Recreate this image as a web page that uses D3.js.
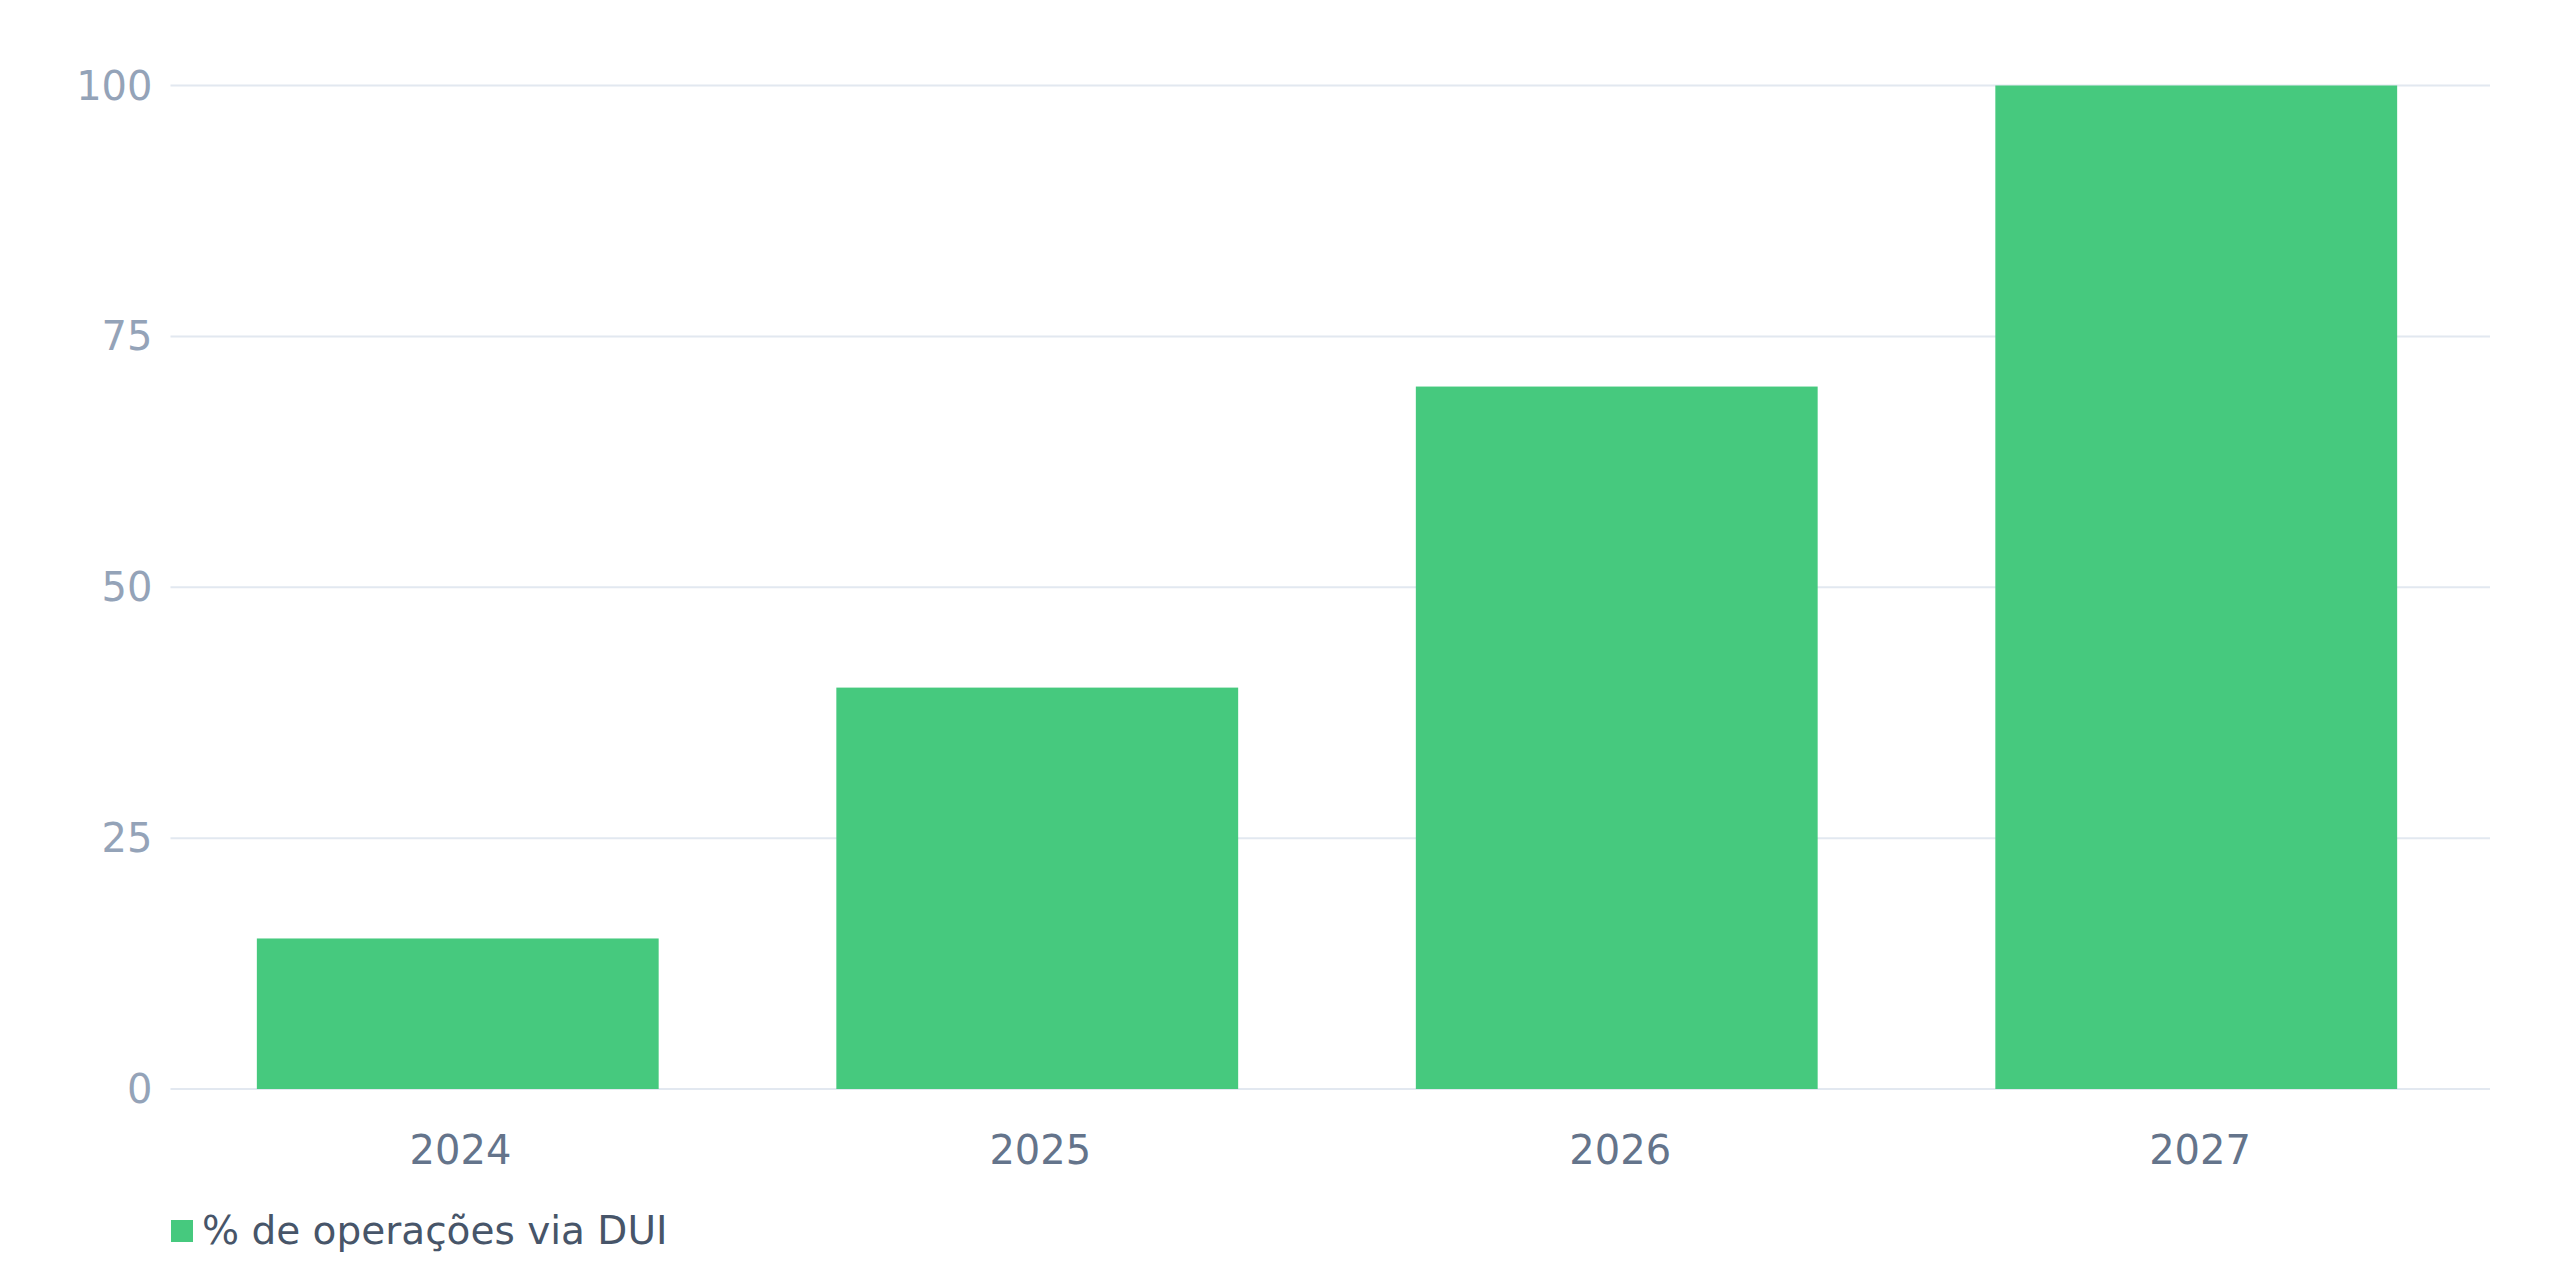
<!DOCTYPE html>
<html>
<head>
<meta charset="utf-8">
<script src="https://cdn.jsdelivr.net/npm/d3@7"></script>
<style>
  html, body { margin: 0; padding: 0; background: #fff; }
  svg { display: block; font-family: "DejaVu Sans", sans-serif; }
</style>
</head>
<body>
<div id="chart"></div>
<script>
// chart data
var years = ['2024', '2025', '2026', '2027'];
var duiShare = [15, 40, 70, 100];
var yTicks = [0, 25, 50, 75, 100];
var seriesName = '% de operações via DUI';

var width = 2560, height = 1280;
var margin = { top: 85.5, right: 70, bottom: 191, left: 170.5 };

var svg = d3.select('#chart')
    .append('svg')
    .attr('width', width)
    .attr('height', height);

// bands stop a little short of the grid's right end, as in the source
var x = d3.scaleBand()
    .domain(years)
    .range([margin.left, width - margin.right - 6.5])
    .paddingInner(0.3066)
    .paddingOuter(0.149);

// category labels sit in the middle of full-width slots
var xLabel = d3.scaleBand()
    .domain(years)
    .range([margin.left, width - margin.right]);

var y = d3.scaleLinear()
    .domain([0, 100])
    .range([height - margin.bottom, margin.top]);

// grid lines
svg.append('g')
    .selectAll('line')
    .data(yTicks)
    .enter()
    .append('line')
    .attr('x1', margin.left)
    .attr('x2', width - margin.right)
    .attr('y1', function (d) { return y(d); })
    .attr('y2', function (d) { return y(d); })
    .attr('stroke', '#e2e8f0')
    .attr('stroke-width', 2);

// y labels
svg.append('g')
    .selectAll('text')
    .data(yTicks)
    .enter()
    .append('text')
    .attr('x', margin.left - 18)
    .attr('y', function (d) { return y(d); })
    .attr('dy', '0.35em')
    .attr('text-anchor', 'end')
    .attr('font-size', '40px')
    .attr('fill', '#94a3b8')
    .text(function (d) { return d; });

// bars
svg.append('g')
    .selectAll('rect')
    .data(years)
    .enter()
    .append('rect')
    .attr('x', function (d) { return x(d); })
    .attr('width', x.bandwidth())
    .attr('y', function (d, i) { return y(duiShare[i]); })
    .attr('height', function (d, i) { return y(0) - y(duiShare[i]); })
    .attr('fill', '#46c97e');

// x labels
svg.append('g')
    .selectAll('text')
    .data(years)
    .enter()
    .append('text')
    .attr('x', function (d) { return xLabel(d) + xLabel.bandwidth() / 2; })
    .attr('y', y(0) + 75)
    .attr('text-anchor', 'middle')
    .attr('font-size', '40px')
    .attr('fill', '#64748b')
    .text(function (d) { return d; });

// legend
var legend = svg.append('g')
    .attr('transform', 'translate(' + (margin.left + 0.5) + ',1220)');

legend.append('rect')
    .attr('width', 22)
    .attr('height', 22)
    .attr('fill', '#46c97e');

legend.append('text')
    .attr('x', 31)
    .attr('y', 24)
    .attr('font-size', '39px')
    .attr('fill', '#475569')
    .text(seriesName);
</script>
</body>
</html>
